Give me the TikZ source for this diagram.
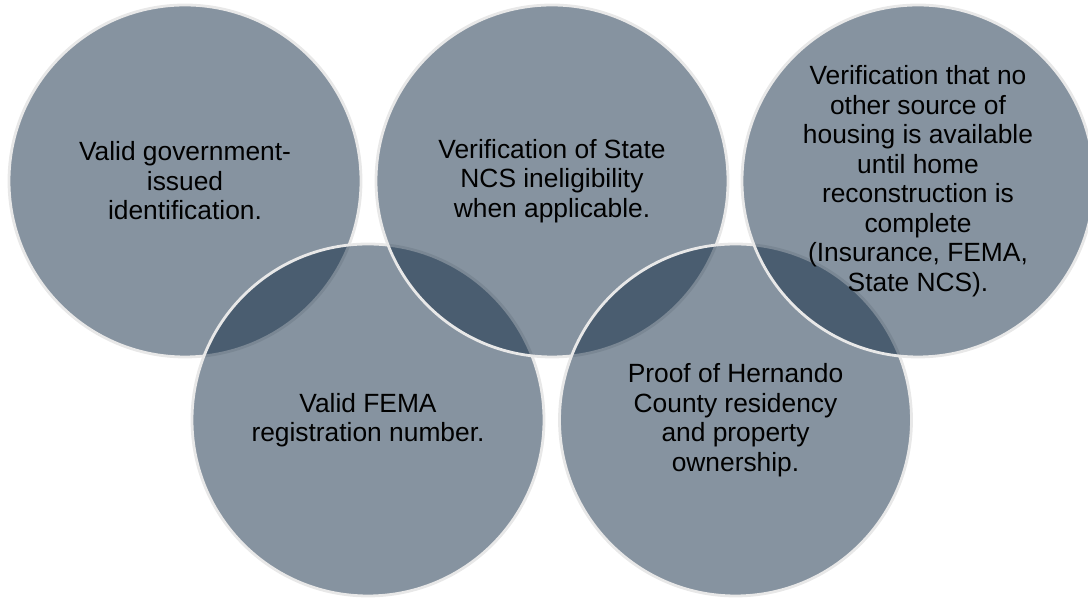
\documentclass[tikz,border=0pt]{standalone}
\usepackage{fontspec}
\setmainfont{Liberation Sans}
\definecolor{ringblue}{HTML}{0E2841}
\definecolor{ringline}{HTML}{E8E8E8}

\begin{document}
\begin{tikzpicture}[ring/.style={circle,minimum size=3.52cm,inner sep=0pt,fill=ringblue,fill opacity=0.5,text opacity=1,draw=ringline,line width=0.8pt,align=center,font=\fontsize{7.5}{8.4}\selectfont}]
  \useasboundingbox (0,0) rectangle (10.88,5.98);
  \node[ring] (govid) at (1.85,4.17) {Valid government-\\issued\\identification.};
  \node[ring] (fema) at (3.68,1.78) {Valid FEMA\\registration number.};
  \node[ring] (ncs) at (5.52,4.17) {Verification of State\\NCS ineligibility\\when applicable.};
  \node[ring] (residency) at (7.355,1.78) {Proof of Hernando\\County residency\\and property\\ownership.};
  \node[ring] (housing) at (9.18,4.17) {Verification that no\\other source of\\housing is available\\until home\\reconstruction is\\complete\\(Insurance, FEMA,\\State NCS).};
\end{tikzpicture}
\end{document}
